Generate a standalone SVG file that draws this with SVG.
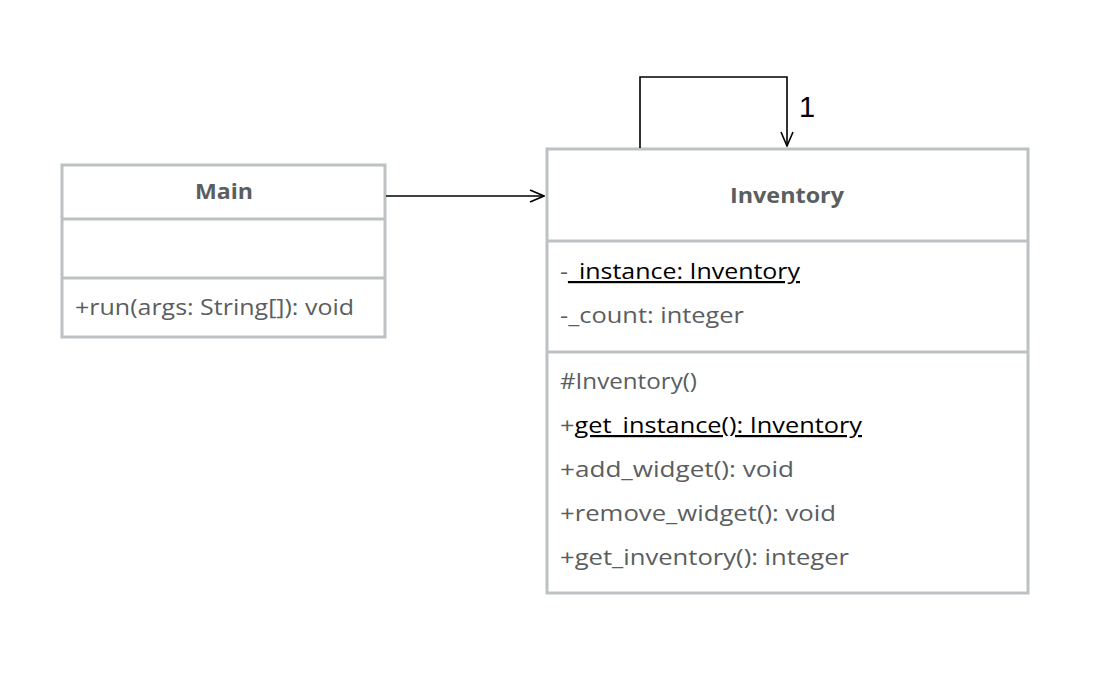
<svg xmlns="http://www.w3.org/2000/svg" width="1118" height="694" viewBox="0 0 1118 694">
<style>
.box{fill:#fff;stroke:#BCC1C3;stroke-width:3}
.div{stroke:#BCC1C3;stroke-width:3}
.t{font-family:"Open Sans",Lato,sans-serif;font-size:22px;fill:#5A5E60}
.h{font-weight:bold;text-anchor:middle}
.u{fill:#000;text-decoration:underline}
.c{fill:none;stroke:#000;stroke-width:1.6}
</style>
<defs>
<marker id="open" markerWidth="16" markerHeight="14" refX="15" refY="7" orient="auto" markerUnits="userSpaceOnUse">
<path d="M1,1 L15,7 L1,13" fill="none" stroke="#000" stroke-width="1.6"/>
</marker>
</defs>
<rect width="1118" height="694" fill="#fff"/>
<g id="Main">
<rect class="box" x="62" y="165" width="323" height="172"/>
<line class="div" x1="62" y1="219" x2="385" y2="219"/>
<line class="div" x1="62" y1="278" x2="385" y2="278"/>
<text class="t h" x="224" y="199" textLength="58" lengthAdjust="spacingAndGlyphs">Main</text>
<text class="t" x="75" y="315" textLength="279" lengthAdjust="spacingAndGlyphs">+run(args: String[]): void</text>
</g>
<g id="Inventory">
<rect class="box" x="547" y="149" width="481" height="444"/>
<line class="div" x1="547" y1="241" x2="1028" y2="241"/>
<line class="div" x1="547" y1="352" x2="1028" y2="352"/>
<text class="t h" x="787" y="203" textLength="114" lengthAdjust="spacingAndGlyphs">Inventory</text>
<text class="t" x="560" y="279" textLength="240" lengthAdjust="spacingAndGlyphs">-<tspan class="u">_instance: Inventory</tspan></text>
<text class="t" x="560" y="323" textLength="184" lengthAdjust="spacingAndGlyphs">-_count: integer</text>
<text class="t" x="560" y="389" textLength="137" lengthAdjust="spacingAndGlyphs">#Inventory()</text>
<text class="t" x="560" y="433" textLength="302" lengthAdjust="spacingAndGlyphs">+<tspan class="u">get_instance(): Inventory</tspan></text>
<text class="t" x="560" y="477" textLength="234" lengthAdjust="spacingAndGlyphs">+add_widget(): void</text>
<text class="t" x="560" y="521" textLength="276" lengthAdjust="spacingAndGlyphs">+remove_widget(): void</text>
<text class="t" x="560" y="565" textLength="289" lengthAdjust="spacingAndGlyphs">+get_inventory(): integer</text>
</g>
<g id="connectors">
<line class="c" x1="386" y1="196" x2="544" y2="196" marker-end="url(#open)"/>
<path class="c" d="M640,148 L640,77 L787,77 L787,146" marker-end="url(#open)"/>
<text x="799" y="117" style="font-family:'Liberation Sans',Arial,sans-serif;font-size:29px;fill:#000">1</text>
</g>
</svg>
